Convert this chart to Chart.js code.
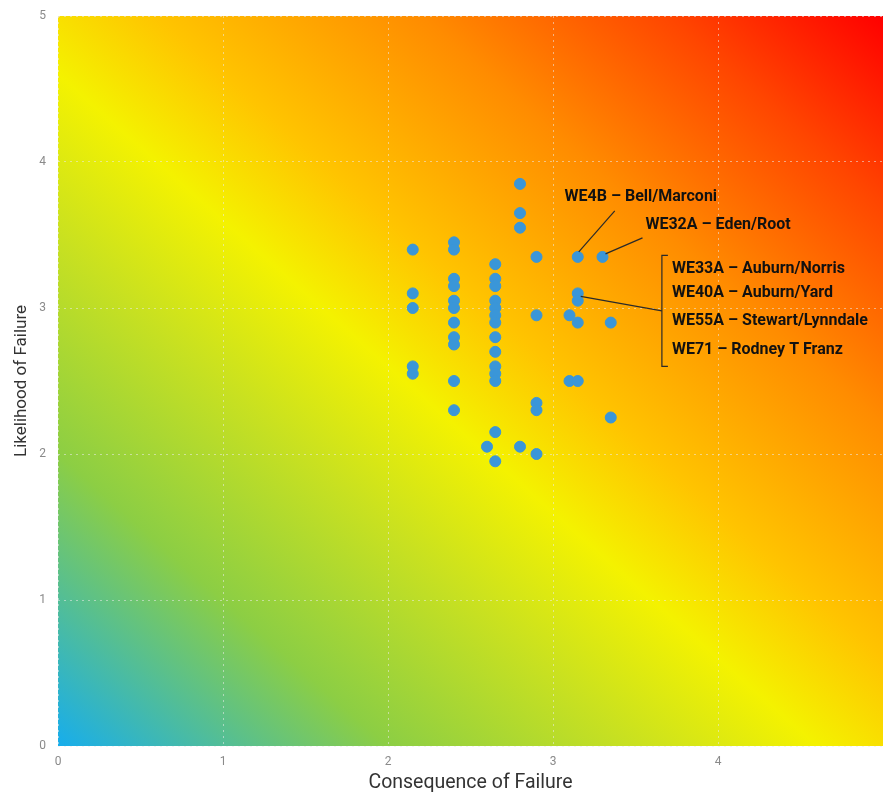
<!DOCTYPE html>
<html>
<head>
<meta charset="utf-8">
<script src="https://cdn.jsdelivr.net/npm/chart.js@4.4.1/dist/chart.umd.min.js"></script>
<style>
  html, body { margin: 0; padding: 0; background: #fff; overflow: hidden; }
  canvas { display: block; }
</style>
</head>
<body>
<canvas id="riskChart" width="883" height="795"></canvas>
<script>
// Consequence (x) / Likelihood (y) par station
const consequence = [
  2.15, 2.15, 2.15, 2.15, 2.15,
  2.4, 2.4, 2.4, 2.4, 2.4, 2.4, 2.4, 2.4, 2.4, 2.4, 2.4,
  2.65, 2.65, 2.65, 2.65, 2.65, 2.65, 2.65, 2.65, 2.65, 2.65, 2.65, 2.65, 2.65, 2.65,
  2.6,
  2.8, 2.8, 2.8, 2.8,
  2.9, 2.9, 2.9, 2.9, 2.9,
  3.1, 3.1,
  3.15, 3.15, 3.15, 3.15, 3.15,
  3.3,
  3.35, 3.35
];
const likelihood = [
  3.4, 3.1, 3.0, 2.6, 2.55,
  3.45, 3.4, 3.2, 3.15, 3.05, 3.0, 2.9, 2.8, 2.75, 2.5, 2.3,
  3.3, 3.2, 3.15, 3.05, 3.0, 2.95, 2.9, 2.8, 2.7, 2.6, 2.55, 2.5, 2.15, 1.95,
  2.05,
  3.85, 3.65, 3.55, 2.05,
  3.35, 2.95, 2.35, 2.3, 2.0,
  2.95, 2.5,
  3.35, 3.1, 3.05, 2.9, 2.5,
  3.35,
  2.9, 2.25
];

const xTicks = [0, 1, 2, 3, 4, 5];
const yTicks = [0, 1, 2, 3, 4, 5];

// étiquettes : point visé, position du texte (en unités des axes)
const calloutLabels = ['WE4B – Bell/Marconi', 'WE32A – Eden/Root'];
const calloutPoint = [[3.15, 3.35], [3.3, 3.35]];
const calloutText = [[3.07, 3.76], [3.56, 3.57]];

const groupLabels = ['WE33A – Auburn/Norris', 'WE40A – Auburn/Yard', 'WE55A – Stewart/Lynndale', 'WE71 – Rodney T Franz'];
const groupRows = [3.27, 3.1, 2.91, 2.71];
const groupPoint = [3.15, 3.08];
const groupBracket = { x: 3.66, top: 3.36, bottom: 2.6, joinY: 2.98 };

const data = consequence.map((c, i) => ({ x: c, y: likelihood[i] }));

// dégradé diagonal (bleu -> jaune -> rouge)
const gradientBackground = {
  id: 'gradientBackground',
  beforeDraw(chart) {
    const { ctx, chartArea: a } = chart;
    const w = a.right - a.left, h = a.bottom - a.top;
    const d = Math.sqrt(w * w + h * h);
    const len = 2 * w * h / d;
    const dx = h / d, dy = -w / d;
    const cx = (a.left + a.right) / 2, cy = (a.top + a.bottom) / 2;
    const g = ctx.createLinearGradient(cx - dx * len / 2, cy - dy * len / 2, cx + dx * len / 2, cy + dy * len / 2);
    g.addColorStop(0, '#17ADEC');
    g.addColorStop(0.2, '#8CCE44');
    g.addColorStop(0.35, '#C9E120');
    g.addColorStop(0.46, '#F4F200');
    g.addColorStop(0.56, '#FFC400');
    g.addColorStop(0.72, '#FF8C00');
    g.addColorStop(0.87, '#FF4600');
    g.addColorStop(1, '#FF0000');
    ctx.save();
    ctx.fillStyle = g;
    ctx.fillRect(a.left, a.top, w, h);
    ctx.restore();
  }
};

// étiquettes et traits de rappel
const callouts = {
  id: 'callouts',
  afterDatasetsDraw(chart) {
    const { ctx, scales: { x, y } } = chart;
    ctx.save();
    ctx.strokeStyle = '#2a2a2a';
    ctx.lineWidth = 1.2;
    ctx.fillStyle = '#111';
    ctx.font = 'bold 16px Roboto, "Open Sans", sans-serif';
    ctx.textBaseline = 'middle';

    calloutLabels.forEach((lab, i) => {
      const px = x.getPixelForValue(calloutPoint[i][0]);
      const py = y.getPixelForValue(calloutPoint[i][1]);
      const tx = x.getPixelForValue(calloutText[i][0]);
      const ty = y.getPixelForValue(calloutText[i][1]);
      ctx.beginPath();
      if (i === 0) {
        ctx.moveTo(px + 1, py - 5);
        ctx.lineTo(px + 37, py - 46);
      } else {
        ctx.moveTo(px + 3, py - 3);
        ctx.lineTo(px + 40, py - 19);
      }
      ctx.stroke();
      ctx.textAlign = 'left';
      ctx.fillText(lab, tx, ty);
    });

    // accolade du groupe
    const bx = x.getPixelForValue(groupBracket.x);
    const bt = y.getPixelForValue(groupBracket.top);
    const bb = y.getPixelForValue(groupBracket.bottom);
    const bj = y.getPixelForValue(groupBracket.joinY);
    ctx.beginPath();
    ctx.moveTo(bx + 6, bt);
    ctx.lineTo(bx, bt);
    ctx.lineTo(bx, bb);
    ctx.lineTo(bx + 6, bb);
    ctx.stroke();
    ctx.beginPath();
    ctx.moveTo(x.getPixelForValue(groupPoint[0]) + 3, y.getPixelForValue(groupPoint[1]));
    ctx.lineTo(bx, bj);
    ctx.stroke();

    groupLabels.forEach((lab, i) => {
      ctx.fillText(lab, bx + 10, y.getPixelForValue(groupRows[i]));
    });
    ctx.restore();
  }
};

const gridStyle = {
  color: 'rgba(235,235,235,0.55)',
  lineWidth: 1
};

new Chart(document.getElementById('riskChart'), {
  type: 'scatter',
  data: {
    datasets: [{
      label: 'Stations',
      data: data,
      backgroundColor: '#3A96D8',
      borderColor: '#3A96D8',
      pointRadius: 5.5,
      pointHoverRadius: 6
    }]
  },
  options: {
    responsive: false,
    animation: false,
    layout: { autoPadding: false, padding: { top: 16, right: 0, left: 0, bottom: 0 } },
    plugins: {
      legend: { display: false },
      tooltip: { enabled: false }
    },
    scales: {
      x: {
        type: 'linear',
        min: 0,
        max: 5,
        afterBuildTicks: (s) => { s.ticks = xTicks.map(v => ({ value: v })); },
        afterFit: (s) => { s.height = 49; s.paddingRight = 0; s.paddingLeft = 0; },
        grid: { ...gridStyle, drawTicks: false },
        border: { display: false, dash: [2, 4] },
        ticks: {
          padding: 9,
          color: '#8a8a8a',
          font: { family: 'Roboto, sans-serif', size: 12 },
          callback: (v) => (v === 5 ? '' : v)
        },
        title: {
          display: true,
          text: 'Consequence of Failure',
          color: '#333',
          font: { family: 'Roboto, sans-serif', size: 19.5 },
          padding: { top: 4, bottom: 0 }
        }
      },
      y: {
        type: 'linear',
        min: 0,
        max: 5,
        afterBuildTicks: (s) => { s.ticks = yTicks.map(v => ({ value: v })); },
        afterFit: (s) => { s.width = 58; s.paddingTop = 0; s.paddingBottom = 0; },
        grid: { ...gridStyle, drawTicks: false },
        border: { display: false, dash: [2, 4] },
        ticks: {
          padding: 12,
          color: '#8a8a8a',
          font: { family: 'Roboto, sans-serif', size: 12 }
        },
        title: {
          display: true,
          text: 'Likelihood of Failure',
          color: '#333',
          font: { family: 'Roboto, sans-serif', size: 17 },
          padding: { top: 12, bottom: 0 }
        }
      }
    }
  },
  plugins: [gradientBackground, callouts]
});
</script>
</body>
</html>
